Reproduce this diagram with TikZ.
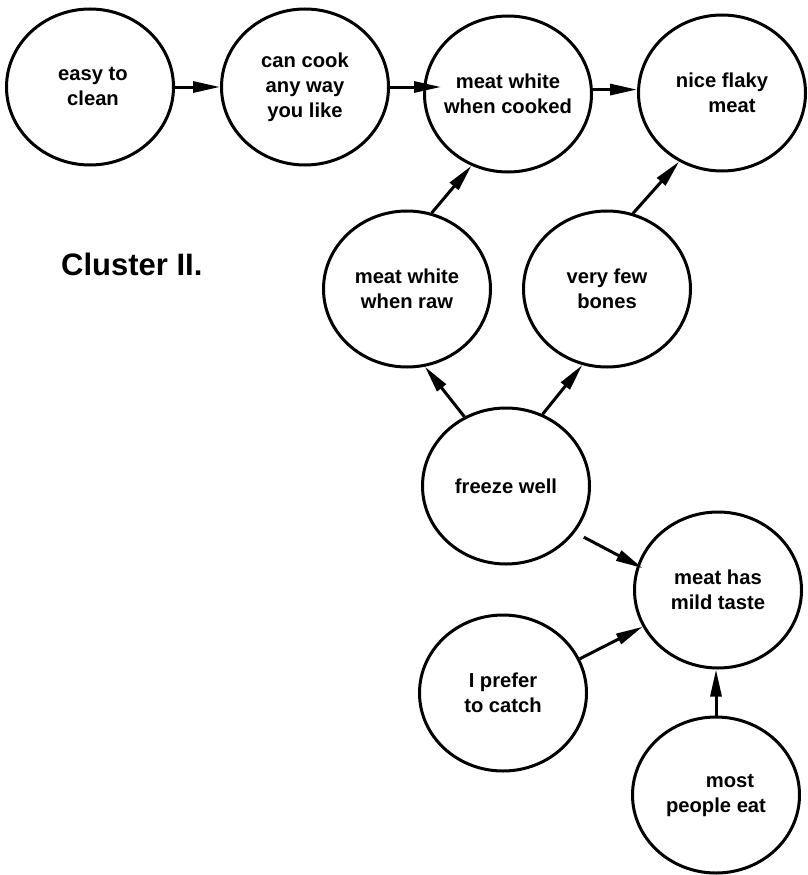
\documentclass[tikz,border=0pt]{standalone}
\usepackage{fontspec}
\setmainfont{Liberation Sans}
\usetikzlibrary{shapes.geometric,arrows.meta}
\tikzset{
  bubble/.style={draw, ellipse, line width=3pt, minimum width=167pt, minimum height=156pt,
    inner sep=-30pt, align=center, font=\fontsize{20.2}{25}\selectfont\bfseries},
  conn/.style={line width=3pt, -{Triangle[length=27pt,width=11pt]}},
  clusterlabel/.style={font=\fontsize{31}{36}\selectfont\bfseries, inner sep=0pt}
}
\begin{document}
\begin{tikzpicture}[x=1pt,y=-1pt]
\useasboundingbox (0,0) rectangle (808,875);
\node[bubble] (n1) at (90,87) {\hspace*{6pt}easy to\\\hspace*{6pt}clean};
\node[bubble] (n2) at (305,87) {can cook\\any way\\you like};
\node[bubble] (n3) at (508,94) {meat white\\when cooked};
\node[bubble] (n4) at (722,93) {nice flaky\\\hspace*{20pt}meat};
\node[bubble] (n5) at (407,289) {meat white\\when raw};
\node[bubble] (n6) at (607,289) {very few\\bones};
\node[bubble] (n7) at (506,486) {freeze well};
\node[bubble] (n8) at (718,590) {meat has\\mild taste};
\node[bubble] (n9) at (503,693) {I prefer\\to catch};
\node[bubble] (n10) at (716,795) {\hspace*{28pt}most\\people eat};
\node[clusterlabel, anchor=base west] (cl) at (61,275) {Cluster II.};

\draw[conn] (n1.east) -- (n2.west);
\draw[conn, shorten >=-18pt] (n2.east) -- (n2.east -| n3.west);
\draw[conn] (n3.3) -- (n3.3 -| n4.west);
\draw[conn] (n5.72) -- (n3.243);
\draw[conn] (n6.71) -- (n4.238);
\draw[conn] (n7.121) -- (n5.283);
\draw[conn] (n7.63) -- (n6.252);
\draw[conn, shorten <=10pt, shorten >=-6pt] (n7.-34) -- (n8.163);
\draw[conn] (n9.24) -- (n8.206);
\draw[conn] (n10.north) -- (n10.north |- n8.south);
\end{tikzpicture}
\end{document}
